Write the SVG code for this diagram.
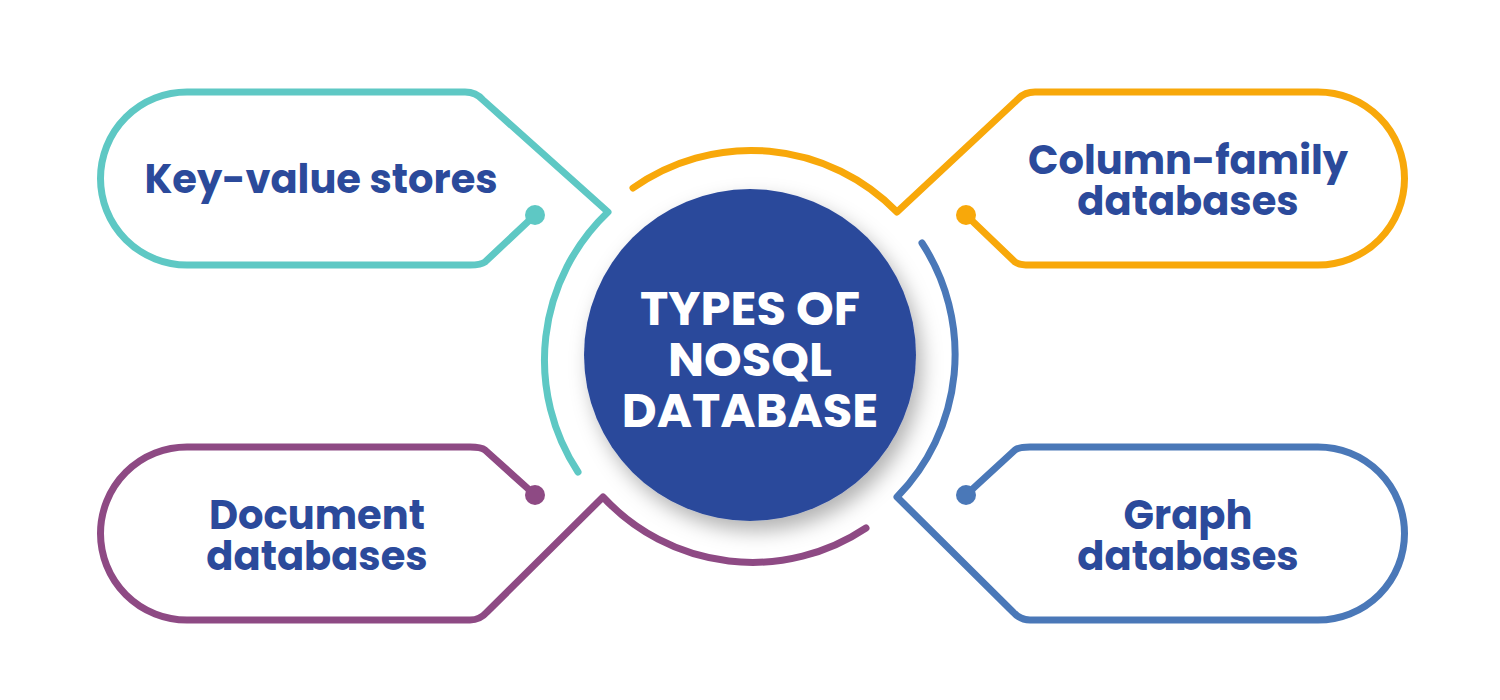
<svg xmlns="http://www.w3.org/2000/svg" width="1500" height="700" viewBox="0 0 1500 700">
<style>
.o{fill:none;stroke-width:7;stroke-linecap:round;stroke-linejoin:round}
.t{font-family:"Poppins","Noto Sans","Liberation Sans",sans-serif;font-weight:bold;font-size:40px;fill:#2b4a9b;text-anchor:middle}
.c{font-family:"Poppins","Noto Sans","Liberation Sans",sans-serif;font-weight:bold;font-size:48px;fill:#fff;text-anchor:middle}
</style>
<defs>
<filter id="sh" x="-30%" y="-30%" width="160%" height="160%"><feDropShadow dx="6" dy="10" stdDeviation="10" flood-color="#000" flood-opacity="0.3"/></filter>
</defs>
<rect width="1500" height="700" fill="#fff"/>
<g id="connectors">
<path class="o" stroke="#5ec8c4" d="M535,215 L485,262 Q481,265 470,265 L187,265 A86.5,86.5 0 0 1 187,92 L465,92 Q476,92 483,100 L608,212 A204,204 0 0 0 578,472"/>
<path class="o" stroke="#f8a80a" d="M966,215 L1015,262 Q1019,265 1030,265 L1318,265 A86.5,86.5 0 0 0 1318,92 L1035,92 Q1024,92 1017,100 L897,212 A204,204 0 0 0 633,188"/>
<path class="o" stroke="#4a78b8" d="M966,495 L1015,450 Q1019,447 1030,447 L1318,447 A86.5,86.5 0 0 1 1318,620 L1030,620 Q1020,620 1013,612 L897,497 A204,204 0 0 0 922,243"/>
<path class="o" stroke="#8e4a84" d="M535,495 L485,450 Q481,447 470,447 L187,447 A86.5,86.5 0 0 0 187,620 L470,620 Q480,620 487,612 L603,497 A204,204 0 0 0 866,528"/>
<circle cx="535" cy="215" r="10" fill="#5ec8c4"/>
<circle cx="966" cy="215" r="10" fill="#f8a80a"/>
<circle cx="966" cy="495" r="10" fill="#4a78b8"/>
<circle cx="535" cy="495" r="10" fill="#8e4a84"/>
</g>
<g id="center">
<circle cx="750" cy="355" r="166" fill="#2c4a9b" filter="url(#sh)"/>
<text class="c" x="750" y="325">TYPES OF</text>
<text class="c" x="750" y="376">NOSQL</text>
<text class="c" x="750" y="427">DATABASE</text>
</g>
<g id="kv"><text class="t" x="321" y="193">Key-value stores</text></g>
<g id="col"><text class="t" x="1188" y="174">Column-family</text><text class="t" x="1188" y="215">databases</text></g>
<g id="doc"><text class="t" x="317" y="529">Document</text><text class="t" x="317" y="570">databases</text></g>
<g id="graph"><text class="t" x="1188" y="529">Graph</text><text class="t" x="1188" y="570">databases</text></g>
</svg>
